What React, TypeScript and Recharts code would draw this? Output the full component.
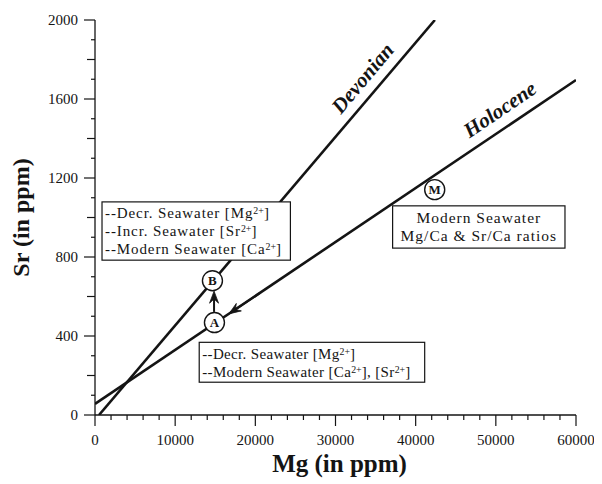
import React from 'react';
import {
  ComposedChart,
  Line,
  XAxis,
  YAxis,
  Scatter,
  ReferenceArea,
  ReferenceLine,
  ReferenceDot,
} from 'recharts';

// ---- data ----
const devonianMg = [500, 42400];
const devonianSr = [0, 2000];
const holoceneMg = [0, 60000];
const holoceneSr = [56, 1696];

const pointLabels = ['A', 'B', 'M'];
const pointMg = [14900, 14650, 42375];
const pointSr = [468, 680, 1141];

const xMajorTicks = [0, 10000, 20000, 30000, 40000, 50000, 60000];
const yMajorTicks = [0, 400, 800, 1200, 1600, 2000];

const devonianData = devonianMg.map((mg, i) => ({ mg, sr: devonianSr[i] }));
const holoceneData = holoceneMg.map((mg, i) => ({ mg, sr: holoceneSr[i] }));
const pointData = pointLabels.map((label, i) => ({ label, mg: pointMg[i], sr: pointSr[i] }));

const xTicks = Array.from({ length: 31 }, (_, i) => i * 2000);
const yTicks = Array.from({ length: 21 }, (_, i) => i * 100);

const FONT = "'Liberation Serif', 'Times New Roman', serif";
const INK = '#141414';

// ---- tick renderers ----
const BottomTick = (p: any) => {
  const v = p.payload.value;
  const major = xMajorTicks.includes(v);
  return (
    <g>
      <line x1={p.x} y1={p.y} x2={p.x} y2={p.y + (major ? 11 : 5)} stroke={INK} strokeWidth={1.2} />
      {major && (
        <text x={p.x} y={p.y + 30} textAnchor="middle" fontSize={15} fontFamily={FONT} fill={INK}>
          {v}
        </text>
      )}
    </g>
  );
};
const TopTick = (p: any) => {
  const v = p.payload.value;
  const major = xMajorTicks.includes(v);
  return <line x1={p.x} y1={p.y} x2={p.x} y2={p.y - (major ? 12 : 5)} stroke={INK} strokeWidth={1.2} />;
};
const yLen = (v: number) => (v % 400 === 0 ? 11 : v % 200 === 0 ? 8 : 4);
const LeftTick = (p: any) => {
  const v = p.payload.value;
  const major = yMajorTicks.includes(v);
  return (
    <g>
      <line x1={p.x} y1={p.y} x2={p.x - yLen(v)} y2={p.y} stroke={INK} strokeWidth={1.2} />
      {major && (
        <text x={p.x - 17} y={p.y + 5} textAnchor="end" fontSize={15} fontFamily={FONT} fill={INK}>
          {v}
        </text>
      )}
    </g>
  );
};
const RightTick = (p: any) => {
  const v = p.payload.value;
  return <line x1={p.x} y1={p.y} x2={p.x + yLen(v)} y2={p.y} stroke={INK} strokeWidth={1.2} />;
};

// ---- text helpers ----
type Seg = string | { sup: string };
const renderSegs = (segs: Seg[], supSize: number) => {
  const out: any[] = [];
  let pending = 0;
  segs.forEach((s, i) => {
    if (typeof s === 'string') {
      out.push(
        <tspan key={i} dy={pending}>
          {s}
        </tspan>
      );
      pending = 0;
    } else {
      out.push(
        <tspan key={i} dy={-4} fontSize={supSize} letterSpacing={0}>
          {s.sup}
        </tspan>
      );
      pending = 4;
    }
  });
  return out;
};

const box1Lines: Seg[][] = [
  ['--Decr. Seawater [Mg', { sup: '2+' }, ']'],
  ['--Incr. Seawater [Sr', { sup: '2+' }, ']'],
  ['--Modern Seawater [Ca', { sup: '2+' }, ']'],
];
const box2Lines: Seg[][] = [
  ['--Decr. Seawater [Mg', { sup: '2+' }, ']'],
  ['--Modern Seawater [Ca', { sup: '2+' }, '], [Sr', { sup: '2+' }, ']'],
];
const box3Lines: Seg[][] = [['Modern Seawater'], ['Mg/Ca & Sr/Ca ratios']];

const makeBox =
  (lines: Seg[][], baselines: number[], center: boolean, size: number, spacing: number) => (p: any) => {
    const { x, y, width, height } = p;
    return (
      <g>
        <rect x={x} y={y} width={width} height={height} fill="#fff" stroke={INK} strokeWidth={1.2} />
        {lines.map((l, i) => (
          <text
            key={i}
            x={center ? x + width / 2 : x + 3}
            y={y + baselines[i]}
            textAnchor={center ? 'middle' : 'start'}
            fontSize={size}
            letterSpacing={spacing}
            fontFamily={FONT}
            fill={INK}
          >
            {renderSegs(l, size * 0.66)}
          </text>
        ))}
      </g>
    );
  };

const arrowShape = (p: any) => {
  const { x1, y1, x2, y2 } = p;
  const dx = x2 - x1;
  const dy = y2 - y1;
  const len = Math.sqrt(dx * dx + dy * dy) || 1;
  const ux = dx / len;
  const uy = dy / len;
  const L = 12;
  const Wd = 4.5;
  const bx = x2 - ux * L;
  const by = y2 - uy * L;
  const nx = x2 - ux * L * 0.65;
  const ny = y2 - uy * L * 0.65;
  const pts = `${x2},${y2} ${bx - uy * Wd},${by + ux * Wd} ${nx},${ny} ${bx + uy * Wd},${by - ux * Wd}`;
  return (
    <g>
      <line x1={x1} y1={y1} x2={nx} y2={ny} stroke={INK} strokeWidth={2} />
      <polygon points={pts} fill={INK} stroke={INK} strokeWidth={0.8} />
    </g>
  );
};

const PointShape = (p: any) => (
  <g>
    <circle cx={p.cx} cy={p.cy} r={10} fill="#fff" stroke={INK} strokeWidth={1.4} />
    <text x={p.cx} y={p.cy + 4.5} textAnchor="middle" fontSize={13} fontWeight="bold" fontFamily={FONT} fill={INK}>
      {p.payload.label}
    </text>
  </g>
);

const eraLabel = (text: string, angle: number) => (p: any) => (
  <text
    x={p.cx}
    y={p.cy}
    textAnchor="middle"
    dominantBaseline="central"
    transform={`rotate(${angle} ${p.cx} ${p.cy})`}
    fontSize={21}
    fontWeight="bold"
    fontStyle="italic"
    fontFamily={FONT}
    fill={INK}
  >
    {text}
  </text>
);

export default function App() {
  return (
    <div style={{ width: 594, height: 476, background: '#fff' }}>
      <ComposedChart width={594} height={476} margin={{ top: 12, right: 26, bottom: 0, left: 0 }}>
        <XAxis
          xAxisId="b"
          dataKey="mg"
          type="number"
          domain={[0, 60000]}
          allowDataOverflow
          ticks={xTicks}
          interval={0}
          height={69}
          tickSize={0}
          tickMargin={0}
          tickLine={false}
          axisLine={{ stroke: INK, strokeWidth: 1.3 }}
          tick={BottomTick}
          label={{
            content: (lp: any) => (
              <text
                x={lp.viewBox.x + lp.viewBox.width / 2 + 4}
                y={lp.viewBox.y + 57}
                textAnchor="middle"
                fontSize={25}
                fontWeight="bold"
                fontFamily={FONT}
                fill={INK}
              >
                Mg (in ppm)
              </text>
            ),
          }}
        />
        <XAxis
          xAxisId="t"
          orientation="top"
          type="number"
          domain={[0, 60000]}
          allowDataOverflow
          ticks={xTicks}
          interval={0}
          height={0}
          tickSize={0}
          tickMargin={0}
          tickLine={false}
          axisLine={{ stroke: INK, strokeWidth: 1.3 }}
          tick={TopTick}
        />
        <YAxis
          yAxisId="l"
          dataKey="sr"
          type="number"
          domain={[0, 2000]}
          allowDataOverflow
          ticks={yTicks}
          interval={0}
          width={87}
          tickSize={0}
          tickMargin={0}
          tickLine={false}
          axisLine={{ stroke: INK, strokeWidth: 1.3 }}
          tick={LeftTick}
          label={{
            content: (lp: any) => {
              const cx = 13;
              const cy = lp.viewBox.y + lp.viewBox.height / 2;
              return (
                <text
                  x={cx}
                  y={cy}
                  textAnchor="middle"
                  dominantBaseline="central"
                  transform={`rotate(-90 ${cx} ${cy})`}
                  fontSize={24}
                  fontWeight="bold"
                  fontFamily={FONT}
                  fill={INK}
                >
                  Sr (in ppm)
                </text>
              );
            },
          }}
        />
        <YAxis
          yAxisId="r"
          orientation="right"
          type="number"
          domain={[0, 2000]}
          allowDataOverflow
          ticks={yTicks}
          interval={0}
          width={0}
          tickSize={0}
          tickMargin={0}
          tickLine={false}
          axisLine={{ stroke: INK, strokeWidth: 1.3 }}
          tick={RightTick}
        />

        <Line
          xAxisId="b"
          yAxisId="l"
          data={devonianData}
          dataKey="sr"
          stroke={INK}
          strokeWidth={2.6}
          dot={false}
          activeDot={false}
          isAnimationActive={false}
        />
        <Line
          xAxisId="b"
          yAxisId="l"
          data={holoceneData}
          dataKey="sr"
          stroke={INK}
          strokeWidth={2.6}
          dot={false}
          activeDot={false}
          isAnimationActive={false}
        />

        <ReferenceArea
          xAxisId="b"
          yAxisId="l"
          x1={875}
          x2={24375}
          y1={784}
          y2={1079}
          ifOverflow="visible"
          shape={makeBox(box1Lines, [16, 34, 52], false, 15, 0.9)}
          zIndex={700}
        />
        <ReferenceArea
          xAxisId="b"
          yAxisId="l"
          x1={13000}
          x2={41125}
          y1={166}
          y2={368}
          ifOverflow="visible"
          shape={makeBox(box2Lines, [17, 35], false, 15, 0.35)}
          zIndex={700}
        />
        <ReferenceArea
          xAxisId="b"
          yAxisId="l"
          x1={37125}
          x2={58625}
          y1={845}
          y2={1059}
          ifOverflow="visible"
          shape={makeBox(box3Lines, [17, 35], true, 15.5, 1.0)}
          zIndex={700}
        />

        <ReferenceLine
          xAxisId="b"
          yAxisId="l"
          segment={[
            { x: 14850, y: 522 },
            { x: 14850, y: 627 },
          ]}
          shape={arrowShape}
          ifOverflow="visible"
          zIndex={700}
        />
        <ReferenceLine
          xAxisId="b"
          yAxisId="l"
          segment={[
            { x: 20500, y: 616 },
            { x: 16700, y: 512 },
          ]}
          shape={arrowShape}
          ifOverflow="visible"
          zIndex={700}
        />

        <Scatter
          xAxisId="b"
          yAxisId="l"
          data={pointData}
          dataKey="sr"
          shape={PointShape}
          isAnimationActive={false}
          zIndex={800}
        />

        <ReferenceDot
          xAxisId="b"
          yAxisId="l"
          x={33375}
          y={1705}
          r={0}
          ifOverflow="visible"
          shape={eraLabel('Devonian', -50)}
          zIndex={800}
        />
        <ReferenceDot
          xAxisId="b"
          yAxisId="l"
          x={50500}
          y={1547}
          r={0}
          ifOverflow="visible"
          shape={eraLabel('Holocene', -34)}
          zIndex={800}
        />
      </ComposedChart>
    </div>
  );
}
